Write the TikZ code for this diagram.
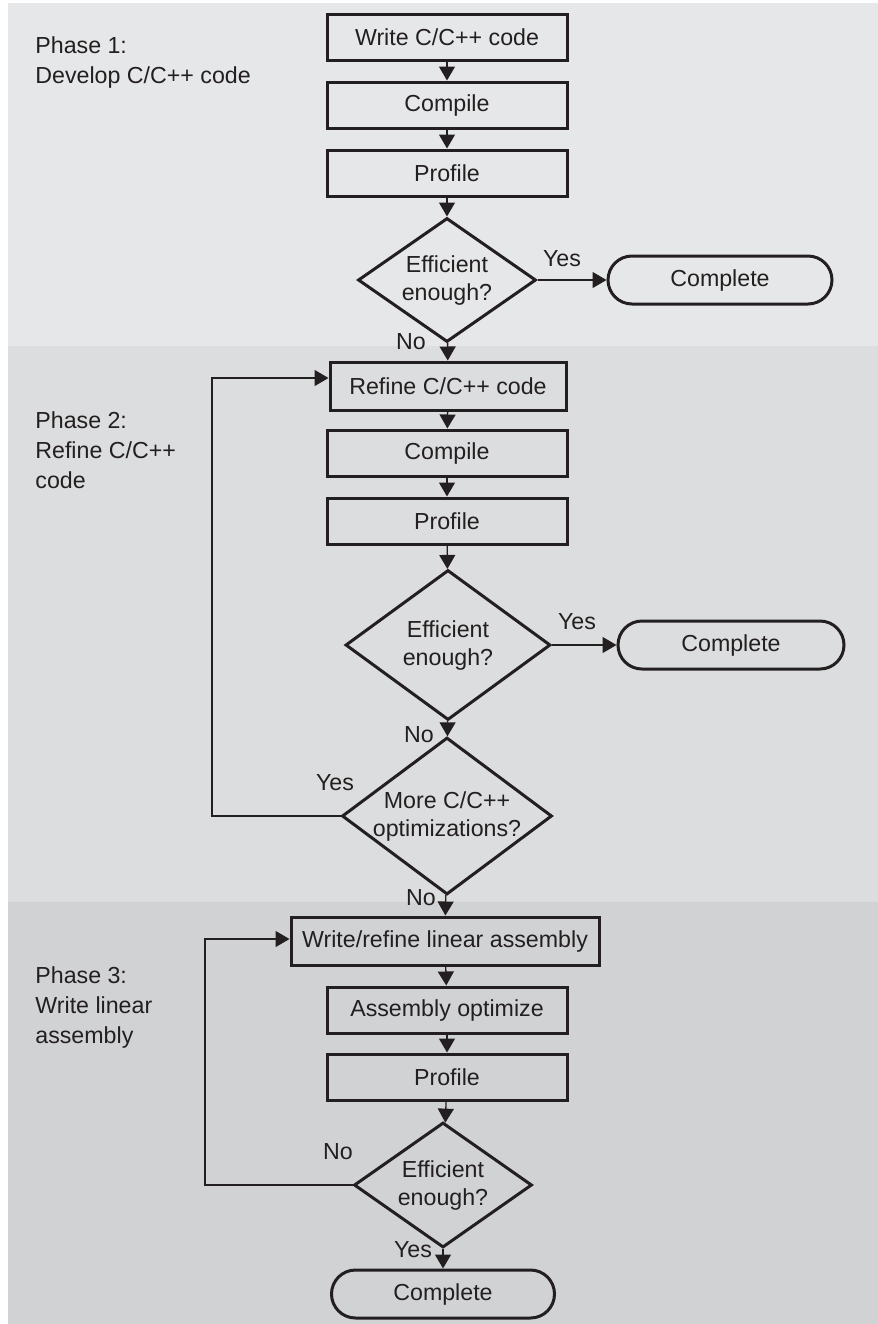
\documentclass[tikz,border=0pt]{standalone}
\usepackage{fontspec}
\setmainfont{Liberation Sans}
\usetikzlibrary{shapes.geometric,arrows.meta}

\definecolor{phaseA}{HTML}{E6E7E8}
\definecolor{phaseB}{HTML}{DCDDDE}
\definecolor{phaseC}{HTML}{D1D2D4}
\definecolor{ink}{HTML}{231F20}

\tikzset{
  every node/.style={font=\fontsize{11.6}{14}\selectfont, text=ink},
  task/.style={rectangle, draw=ink, line width=1.5pt, minimum width=120pt,
    minimum height=23pt, inner sep=0pt},
  test/.style={diamond, draw=ink, line width=1.5pt, inner xsep=-14pt,
    inner ysep=-3pt, align=center},
  term/.style={rectangle, draw=ink, line width=1.5pt, rounded corners=12pt,
    minimum width=112pt, minimum height=24pt, inner sep=0pt},
  flow/.style={draw=ink, line width=0.65pt, -{Triangle[length=7pt,width=8pt]}},
  answer/.style={inner sep=0pt},
  phase/.style={anchor=north west, align=left, inner sep=0pt,
    font=\fontsize{11.6}{15}\selectfont}
}

\begin{document}
\begin{tikzpicture}[x=0.5pt, y=-0.5pt]
\useasboundingbox (0,0) rectangle (878,1324);

% Phase bands
\fill[phaseA] (8,3) rectangle (878,346);
\fill[phaseB] (8,346) rectangle (878,902);
\fill[phaseC] (8,902) rectangle (878,1324);

% Define nodes
\path (447,37) node[task] (write1) {Write C/C++ code}
(447,105) node[task] (comp1) {Compile}
(447,173) node[task] (prof1) {Profile}
(447,280) node[test, minimum width=89pt, minimum height=62pt] (eff1) {Efficient\\enough?}
(720,280) node[term] (done1) {Complete}
;
\path (448,386) node[task, minimum width=118pt, minimum height=24pt] (refine) {Refine C/C++ code}
(447,453) node[task] (comp2) {Compile}
(447,521) node[task] (prof2) {Profile}
(448,645) node[test, minimum width=102.5pt, minimum height=75pt] (eff2) {Efficient\\enough?}
(731,645) node[term, minimum width=113pt] (done2) {Complete}
(447,816) node[test, minimum width=105pt, minimum height=78.5pt] (more) {More C/C++\\optimizations?}
(212,378) coordinate (ret1)
;
\path (445,941) node[task, minimum width=154pt, minimum height=24pt] (wrasm) {Write/refine linear assembly}
(447,1010) node[task] (asmopt) {Assembly optimize}
(447,1077) node[task] (prof3) {Profile}
(443,1185) node[test, minimum width=89pt, minimum height=62.5pt] (eff3) {Efficient\\enough?}
(443,1294) node[term, minimum width=111.5pt] (done3) {Complete}
(205,939) coordinate (ret2)
;

% Phase labels
\path (35,36) node[phase] (ph1) {Phase 1:\\Develop C/C++ code}
(35,411) node[phase] (ph2) {Phase 2:\\Refine C/C++\\code}
(35,966) node[phase] (ph3) {Phase 3:\\Write linear\\assembly}
;

% Answers
\path (562,259) node[answer] (y1) {Yes}
(411,342) node[answer] (n1) {No}
(577,622) node[answer] (y2) {Yes}
(419,735) node[answer] (n2) {No}
(335,783) node[answer] (y3) {Yes}
(421,898) node[answer] (n3) {No}
(338,1152) node[answer] (n4) {No}
(413,1250) node[answer] (y4) {Yes}
;

% Edges
\draw[flow] (write1) -- (comp1);
\draw[flow] (comp1) -- (prof1);
\draw[flow] (prof1) -- (eff1);
\draw[flow] (eff1) -- (done1);
\draw[flow] (eff1) -- (refine);
\draw[flow] (refine) -- (comp2);
\draw[flow] (comp2) -- (prof2);
\draw[flow] (prof2) -- (eff2);
\draw[flow] (eff2) -- (done2);
\draw[flow] (eff2) -- (more);
\draw[flow] (more.west) -| (ret1) -- ([yshift=4pt]refine.west);
\draw[flow] (more) -- (wrasm);
\draw[flow] (wrasm) -- (asmopt);
\draw[flow] (asmopt) -- (prof3);
\draw[flow] (prof3) -- (eff3);
\draw[flow] (eff3) -- (done3);
\draw[flow] (eff3.west) -| (ret2) -- ([yshift=1pt]wrasm.west);

\end{tikzpicture}
\end{document}
